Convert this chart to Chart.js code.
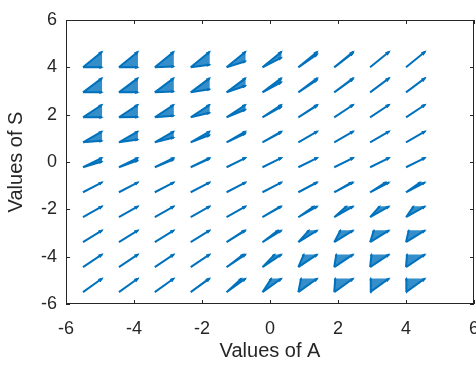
<!DOCTYPE html>
<html>
<head>
<meta charset="utf-8">
<script src="https://cdn.jsdelivr.net/npm/chart.js@4.4.1/dist/chart.umd.min.js"></script>
<style>
  html, body { margin: 0; padding: 0; background: #fff; }
</style>
</head>
<body>
<canvas id="quiverChart" width="476" height="367"></canvas>
<script>
// grid of base points
const gridA = [-5.5, -4.444, -3.389, -2.333, -1.278, -0.222, 0.833, 1.889, 2.944, 4];
const gridS = [4, 2.944, 1.889, 0.833, -0.222, -1.278, -2.333, -3.389, -4.444, -5.5];

// main arrow (dA, dS) for each row
const arrowU = [0.56, 0.56, 0.56, 0.56, 0.56, 0.56, 0.56, 0.56, 0.56, 0.56];
const arrowV = [0.66, 0.60, 0.53, 0.46, 0.40, 0.42, 0.46, 0.50, 0.54, 0.58];

// how far the fan opens from the main arrow
// > 0 : flattest arrow has dS reduced by this much
// < 0 : steepest arrow has dA reduced by this much
const spread = [
  [0.66, 0.66, 0.62, 0.55, 0.40, 0.25, 0.10, 0.04, 0, 0],
  [0.60, 0.60, 0.56, 0.47, 0.32, 0.17, 0.06, 0.02, 0, 0],
  [0.53, 0.52, 0.46, 0.34, 0.20, 0.08, 0.03, 0, 0, 0],
  [0.40, 0.34, 0.26, 0.16, 0.08, 0.03, 0, 0, 0, 0],
  [0.16, 0.11, 0.06, 0.03, 0, 0, 0, 0, 0, 0],
  [0, 0, 0, 0, 0, 0, -0.02, -0.05, -0.10, -0.14],
  [0, 0, 0, 0, 0, -0.03, -0.10, -0.20, -0.28, -0.34],
  [0, 0, 0, 0, -0.03, -0.10, -0.25, -0.38, -0.45, -0.48],
  [0, 0, 0, 0, -0.06, -0.20, -0.40, -0.50, -0.52, -0.53],
  [0, 0, 0, -0.02, -0.12, -0.30, -0.48, -0.53, -0.54, -0.55]
];

const xTicks = [-6, -4, -2, 0, 2, 4, 6];
const yTicks = [-6, -4, -2, 0, 2, 4, 6];

const blue = "#0072BD";
const axisColor = "#262626";
const fontFamily = "'Liberation Sans', Arial, Helvetica, sans-serif";

// every fan: base point plus its two outer arrow tips
const fans = [];
gridS.forEach((s, r) => {
  gridA.forEach((a, c) => {
    const u = arrowU[r], v = arrowV[r], k = spread[r][c];
    const tip1 = { x: a + u, y: s + v };
    const tip2 = k >= 0 ? { x: a + u, y: s + v - k } : { x: a + u + k, y: s + v };
    fans.push({ base: { x: a, y: s }, tip1, tip2 });
  });
});

const shaftData = [];
fans.forEach(f => {
  shaftData.push(f.base, f.tip1, { x: NaN, y: NaN });
  shaftData.push(f.base, f.tip2, { x: NaN, y: NaN });
});

// fills each fan wedge and puts small heads on the arrows
const quiverPlugin = {
  id: "quiver",
  beforeDatasetsDraw(chart) {
    const { ctx, scales: { x, y } } = chart;
    ctx.save();
    ctx.fillStyle = "rgba(0,114,189,0.8)";
    fans.forEach(f => {
      ctx.beginPath();
      ctx.moveTo(x.getPixelForValue(f.base.x), y.getPixelForValue(f.base.y));
      ctx.lineTo(x.getPixelForValue(f.tip1.x), y.getPixelForValue(f.tip1.y));
      ctx.lineTo(x.getPixelForValue(f.tip2.x), y.getPixelForValue(f.tip2.y));
      ctx.closePath();
      ctx.fill();
    });
    ctx.restore();
  },
  afterDatasetsDraw(chart) {
    const { ctx, scales: { x, y } } = chart;
    ctx.save();
    ctx.strokeStyle = blue;
    ctx.lineWidth = 1.2;
    fans.forEach(f => {
      const bx = x.getPixelForValue(f.base.x), by = y.getPixelForValue(f.base.y);
      [f.tip1, f.tip2].forEach(t => {
        const tx = x.getPixelForValue(t.x), ty = y.getPixelForValue(t.y);
        const dx = tx - bx, dy = ty - by;
        const len = Math.hypot(dx, dy);
        if (len < 1) return;
        const h = 0.16 * len, ang = Math.atan2(dy, dx);
        ctx.beginPath();
        ctx.moveTo(tx - h * Math.cos(ang - 0.35), ty - h * Math.sin(ang - 0.35));
        ctx.lineTo(tx, ty);
        ctx.lineTo(tx - h * Math.cos(ang + 0.35), ty - h * Math.sin(ang + 0.35));
        ctx.stroke();
      });
    });
    ctx.restore();
  },
  afterDraw(chart) {
    // axes box with inward ticks
    const { ctx, chartArea: a, scales: { x, y } } = chart;
    ctx.save();
    ctx.strokeStyle = axisColor;
    ctx.lineWidth = 1;
    ctx.strokeRect(a.left + 0.5, a.top + 0.5, a.right - a.left - 1, a.bottom - a.top - 1);
    ctx.beginPath();
    xTicks.forEach(t => {
      const px = Math.round(x.getPixelForValue(t)) + 0.5;
      ctx.moveTo(px, a.bottom); ctx.lineTo(px, a.bottom - 4);
      ctx.moveTo(px, a.top); ctx.lineTo(px, a.top + 4);
    });
    yTicks.forEach(t => {
      const py = Math.round(y.getPixelForValue(t)) + 0.5;
      ctx.moveTo(a.left, py); ctx.lineTo(a.left + 4, py);
      ctx.moveTo(a.right, py); ctx.lineTo(a.right - 4, py);
    });
    ctx.stroke();
    ctx.restore();
  }
};

new Chart(document.getElementById("quiverChart"), {
  type: "scatter",
  data: {
    datasets: [{
      data: shaftData,
      showLine: true,
      spanGaps: false,
      borderColor: blue,
      borderWidth: 2,
      pointRadius: 0,
      tension: 0
    }]
  },
  options: {
    responsive: false,
    animation: false,
    layout: { padding: { top: 20, right: 2, left: 0, bottom: 0 } },
    plugins: { legend: { display: false }, tooltip: { enabled: false } },
    scales: {
      x: {
        type: "linear",
        min: -6, max: 6,
        afterBuildTicks: s => { s.ticks = xTicks.map(v => ({ value: v })); },
        afterFit: s => { s.height = 63; s.paddingRight = 0; s.paddingLeft = 0; },
        grid: { display: false, drawTicks: false },
        border: { display: false },
        ticks: { color: axisColor, padding: 14, font: { family: fontFamily, size: 18 } },
        title: { display: true, text: "Values of A", color: axisColor, padding: { top: 8 }, font: { family: fontFamily, size: 20 } }
      },
      y: {
        type: "linear",
        min: -6, max: 6,
        afterBuildTicks: s => { s.ticks = yTicks.map(v => ({ value: v })); },
        afterFit: s => { s.width = 66; },
        grid: { display: false, drawTicks: false },
        border: { display: false },
        ticks: { color: axisColor, padding: 9, font: { family: fontFamily, size: 18 } },
        title: { display: true, text: "Values of S", color: axisColor, padding: { bottom: 4 }, font: { family: fontFamily, size: 20 } }
      }
    }
  },
  plugins: [quiverPlugin]
});
</script>
</body>
</html>
